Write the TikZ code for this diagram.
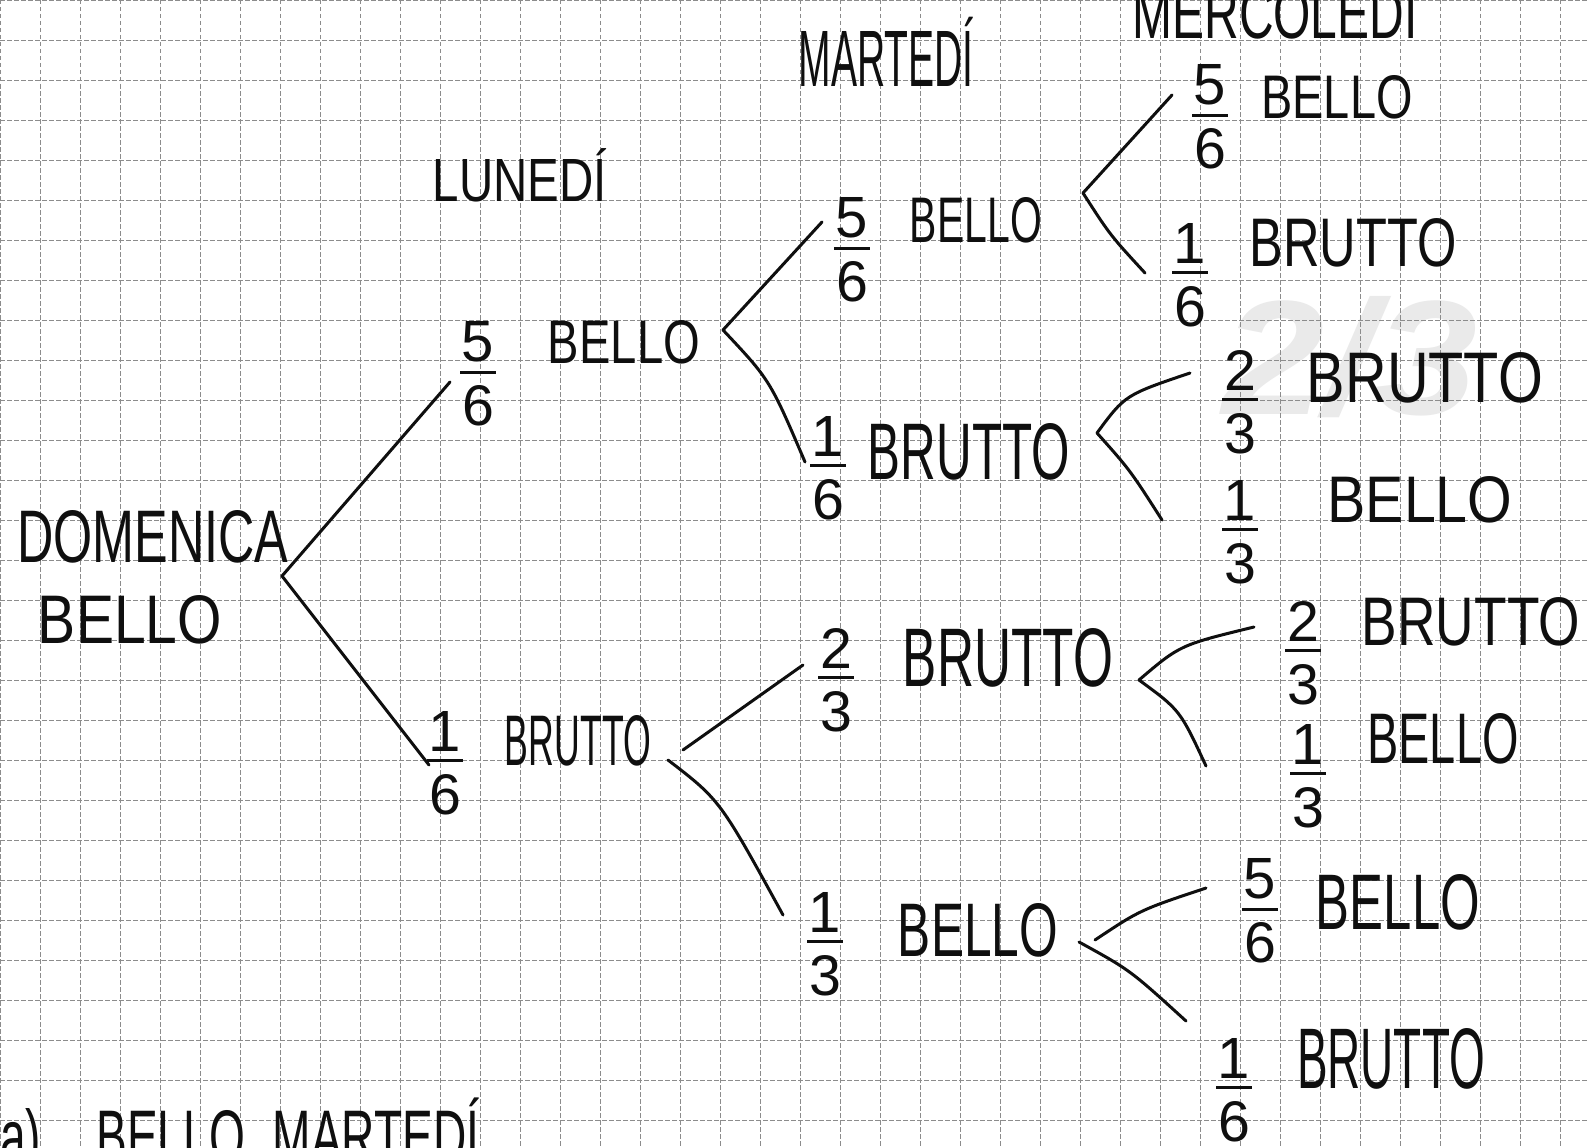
\documentclass[tikz,border=0pt]{standalone}
\usepackage{fontspec}
\setmainfont{Liberation Sans}
\usepackage{graphicx}
\definecolor{gridc}{RGB}{140,140,140}
\definecolor{wmc}{RGB}{234,234,234}
\definecolor{ink}{RGB}{15,15,15}
\newcommand\hw[3]{\resizebox{#1pt}{#2pt}{#3}}
\newcommand\frc[2]{\vbox{\offinterlineskip\halign{\hfil##\hfil\cr\resizebox{!}{40pt}{#1}\cr\noalign{\kern8pt}\rule{36pt}{3pt}\cr\noalign{\kern12pt}\resizebox{!}{40pt}{#2}\cr}}}
\begin{document}
\begin{tikzpicture}[x=1pt,y=-1pt,
  lbl/.style={inner sep=0pt,anchor=center,text=ink},
  br/.style={line width=3pt,line cap=round,draw=ink},
  gridl/.style={draw=gridc,line width=1.5pt,dash pattern=on 4.5pt off 2.5pt}]
\useasboundingbox (0,0) rectangle (1588,1148);
\clip (0,0) rectangle (1588,1148);
\fill[white] (0,0) rectangle (1588,1148);
% watermark
\node[inner sep=0pt,text=wmc,font=\bfseries\itshape] (wm) at (1350,357) {\resizebox{255pt}{118pt}{2/3}};
% grid
\foreach \i in {0,...,39} \draw[gridl] (0.7+40*\i,0) -- (0.7+40*\i,1148);
\foreach \j in {0,...,28} \draw[gridl] (0,0.7+40*\j) -- (1588,0.7+40*\j);
% headers
\node[lbl] (lun) at (520,181) {\hw{174}{42}{LUNED\smash{Í}}};
\node[lbl] (mar) at (886,59) {\hw{175}{55}{MARTED\smash{Í}}};
\node[lbl] (mer) at (1275,14) {\hw{285}{50}{MERCOLED\smash{Í}}};
% root
\node[lbl] (root1) at (153,537) {\hw{271}{52}{DOMENICA}};
\node[lbl] (root2) at (130,620) {\hw{184}{48}{BELLO}};
% level 1
\node[lbl] (f1) at (478,374) {\frc{5}{6}};
\node[lbl] (b1) at (624,342) {\hw{152}{43}{BELLO}};
\node[lbl] (f2) at (445,763) {\frc{1}{6}};
\node[lbl] (r1) at (578,741) {\hw{146}{50}{BRUTTO}};
% level 2
\node[lbl] (f3) at (852,250) {\frc{5}{6}};
\node[lbl] (b2) at (976,220) {\hw{132}{45}{BELLO}};
\node[lbl] (f4) at (828,468) {\frc{1}{6}};
\node[lbl] (r2) at (969,452) {\hw{202}{56}{BRUTTO}};
\node[lbl] (f5) at (836,680) {\frc{2}{3}};
\node[lbl] (r3) at (1008,658) {\hw{210}{58}{BRUTTO}};
\node[lbl] (f6) at (825,944) {\frc{1}{3}};
\node[lbl] (b3) at (978,930) {\hw{160}{53}{BELLO}};
% level 3
\node[lbl] (f7) at (1210,117) {\frc{5}{6}};
\node[lbl] (b4) at (1337,97) {\hw{151}{43}{BELLO}};
\node[lbl] (f8) at (1190,275) {\frc{1}{6}};
\node[lbl] (r4) at (1353,243) {\hw{207}{48}{BRUTTO}};
\node[lbl] (f9) at (1240,402) {\frc{2}{3}};
\node[lbl] (r5) at (1425,378) {\hw{236}{50}{BRUTTO}};
\node[lbl] (f10) at (1240,532) {\frc{1}{3}};
\node[lbl] (b5) at (1420,500) {\hw{185}{46}{BELLO}};
\node[lbl] (f11) at (1303,653) {\frc{2}{3}};
\node[lbl] (r6) at (1471,622) {\hw{218}{48}{BRUTTO}};
\node[lbl] (f12) at (1308,776) {\frc{1}{3}};
\node[lbl] (b6) at (1443,739) {\hw{151}{50}{BELLO}};
\node[lbl] (f13) at (1260,911) {\frc{5}{6}};
\node[lbl] (b7) at (1398,902) {\hw{164}{55}{BELLO}};
\node[lbl] (f14) at (1234,1090) {\frc{1}{6}};
\node[lbl] (r7) at (1391,1059) {\hw{188}{60}{BRUTTO}};
% answer line
\node[inner sep=0pt,anchor=base west,text=ink] (ans) at (0,1162) {\hw{492}{54}{a)\hspace{1.2em}BELLO\hspace{0.6em}MARTED\smash{Í}.}};
% branch points and ends
\coordinate (v0) at (282,576);
\coordinate (e1) at (450,382);
\coordinate (e2) at (429,765);
\coordinate (v1) at (723,330);
\coordinate (e3) at (822,222);
\coordinate (e4) at (805,462);
\coordinate (v2u) at (683,750);
\coordinate (v2l) at (668,760);
\coordinate (e5) at (803,665);
\coordinate (e6) at (783,915);
\coordinate (v3) at (1083,193);
\coordinate (e7) at (1172,95);
\coordinate (e8) at (1145,273);
\coordinate (v4) at (1097,433);
\coordinate (e9) at (1190,373);
\coordinate (e10) at (1162,520);
\coordinate (v5) at (1139,680);
\coordinate (e11) at (1254,627);
\coordinate (e12) at (1206,766);
\coordinate (v6u) at (1095,940);
\coordinate (v6l) at (1079,942);
\coordinate (e13) at (1206,888);
\coordinate (e14) at (1186,1021);
% connectors
\draw[br] (v0) -- (e1);
\draw[br] (v0) -- (e2);
\draw[br] (v1) -- (e3);
\draw[br] (v1) .. controls (770,380) .. (e4);
\draw[br] (v2u) -- (e5);
\draw[br] (v2l) .. controls (720,800) .. (e6);
\draw[br] (v3) -- (e7);
\draw[br] (v3) .. controls (1110,235) .. (e8);
\draw[br] (v4) .. controls (1125,395) .. (e9);
\draw[br] (v4) .. controls (1130,470) .. (e10);
\draw[br] (v5) .. controls (1180,645) .. (e11);
\draw[br] (v5) .. controls (1180,710) .. (e12);
\draw[br] (v6u) .. controls (1140,910) .. (e13);
\draw[br] (v6l) .. controls (1130,970) .. (e14);
\end{tikzpicture}
\end{document}
